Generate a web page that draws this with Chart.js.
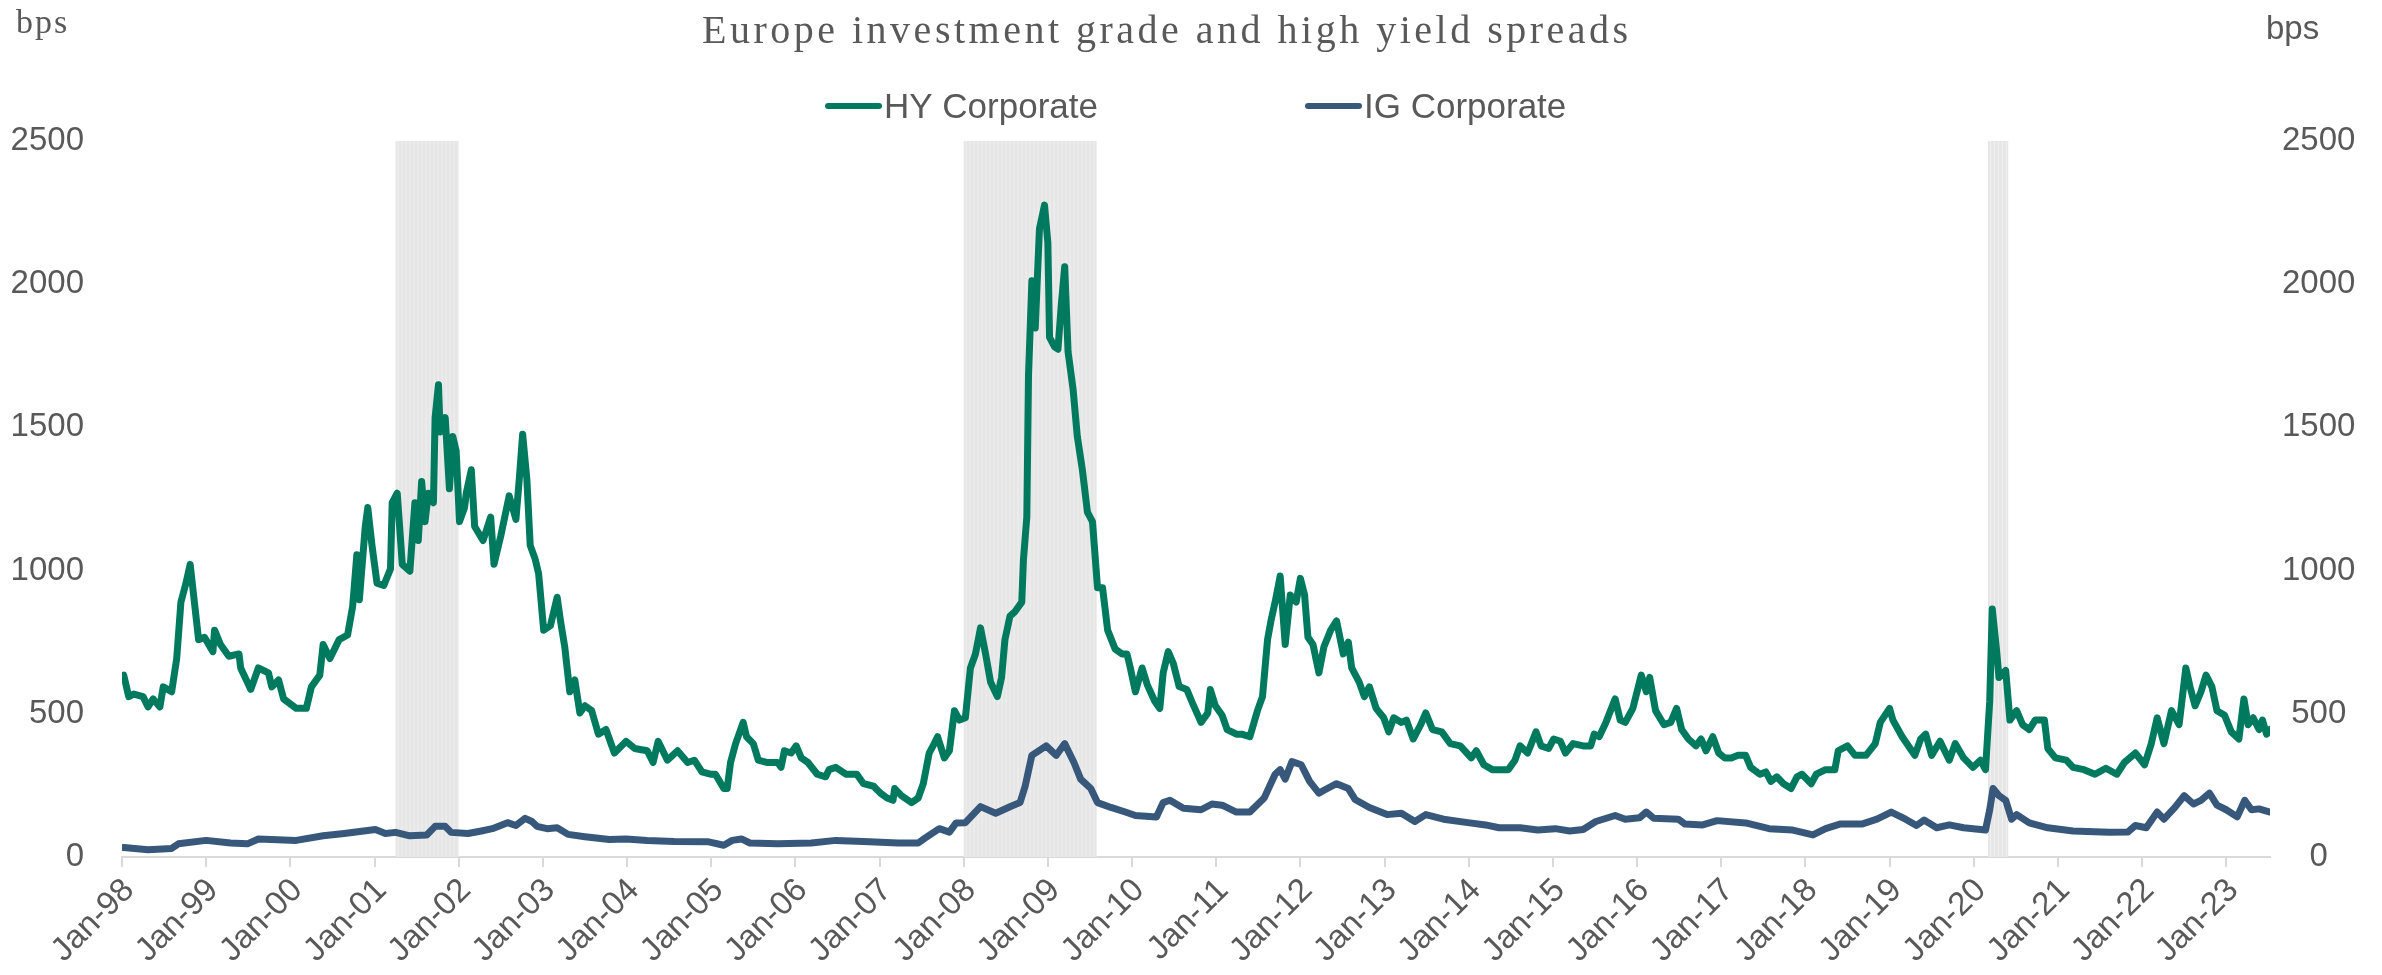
<!DOCTYPE html>
<html>
<head>
<meta charset="utf-8">
<title>Europe investment grade and high yield spreads</title>
<script src="https://cdn.jsdelivr.net/npm/chart.js@4.4.1/dist/chart.umd.min.js"></script>
<style>
  html, body { margin: 0; padding: 0; background: #fff; overflow: hidden; }
  #wrap { width: 2382px; height: 975px; position: relative; }
</style>
</head>
<body>
<div id="wrap"><canvas id="spreadChart"></canvas></div>
<script>
// --- data (bps) ---
const hyDates = [
  1998.02, 1998.08, 1998.14, 1998.25, 1998.31, 1998.37, 1998.45, 1998.49, 1998.59, 1998.65,
  1998.70, 1998.76, 1998.81, 1998.86, 1998.91, 1998.98, 1999.08, 1999.10, 1999.17, 1999.27,
  1999.39, 1999.41, 1999.53, 1999.62, 1999.74, 1999.78, 1999.86, 1999.92, 2000.07, 2000.19,
  2000.25, 2000.35, 2000.39, 2000.47, 2000.58, 2000.68, 2000.74, 2000.79, 2000.82, 2000.89,
  2000.92, 2000.97, 2001.03, 2001.11, 2001.19, 2001.21, 2001.27, 2001.33, 2001.42, 2001.48,
  2001.52, 2001.56, 2001.60, 2001.64, 2001.70, 2001.72, 2001.76, 2001.78, 2001.84, 2001.89,
  2001.93, 2001.97, 2002.01, 2002.07, 2002.09, 2002.15, 2002.19, 2002.29, 2002.38, 2002.42,
  2002.50, 2002.60, 2002.64, 2002.68, 2002.72, 2002.76, 2002.81, 2002.85, 2002.91, 2002.95,
  2003.01, 2003.09, 2003.17, 2003.21, 2003.26, 2003.32, 2003.38, 2003.44, 2003.50, 2003.58,
  2003.66, 2003.75, 2003.85, 2003.99, 2004.09, 2004.24, 2004.31, 2004.37, 2004.48, 2004.60,
  2004.72, 2004.80, 2004.89, 2004.99, 2005.05, 2005.15, 2005.19, 2005.23, 2005.29, 2005.38,
  2005.42, 2005.50, 2005.56, 2005.66, 2005.79, 2005.83, 2005.87, 2005.95, 2006.01, 2006.07,
  2006.15, 2006.26, 2006.36, 2006.40, 2006.48, 2006.60, 2006.73, 2006.81, 2006.93, 2007.01,
  2007.09, 2007.16, 2007.18, 2007.26, 2007.38, 2007.46, 2007.52, 2007.59, 2007.65, 2007.69,
  2007.77, 2007.83, 2007.89, 2007.95, 2008.02, 2008.08, 2008.14, 2008.20, 2008.26, 2008.32,
  2008.40, 2008.45, 2008.49, 2008.55, 2008.61, 2008.69, 2008.71, 2008.75, 2008.77, 2008.81,
  2008.85, 2008.90, 2008.96, 2009.00, 2009.02, 2009.08, 2009.12, 2009.16, 2009.20, 2009.24,
  2009.30, 2009.35, 2009.41, 2009.47, 2009.53, 2009.59, 2009.65, 2009.71, 2009.80, 2009.88,
  2009.94, 2009.98, 2010.04, 2010.12, 2010.18, 2010.27, 2010.33, 2010.37, 2010.43, 2010.49,
  2010.56, 2010.65, 2010.72, 2010.82, 2010.90, 2010.93, 2010.99, 2011.07, 2011.13, 2011.24,
  2011.30, 2011.40, 2011.49, 2011.55, 2011.61, 2011.65, 2011.70, 2011.76, 2011.82, 2011.88,
  2011.95, 2012.00, 2012.05, 2012.09, 2012.15, 2012.22, 2012.28, 2012.36, 2012.43, 2012.51,
  2012.57, 2012.61, 2012.70, 2012.76, 2012.82, 2012.90, 2012.99, 2013.05, 2013.11, 2013.20,
  2013.26, 2013.34, 2013.43, 2013.49, 2013.57, 2013.68, 2013.78, 2013.90, 2014.03, 2014.09,
  2014.18, 2014.28, 2014.38, 2014.47, 2014.55, 2014.61, 2014.70, 2014.80, 2014.86, 2014.95,
  2015.01, 2015.09, 2015.15, 2015.24, 2015.36, 2015.45, 2015.49, 2015.55, 2015.63, 2015.74,
  2015.80, 2015.86, 2015.95, 2016.05, 2016.11, 2016.15, 2016.22, 2016.32, 2016.40, 2016.47,
  2016.53, 2016.61, 2016.70, 2016.76, 2016.82, 2016.90, 2016.97, 2017.04, 2017.12, 2017.20,
  2017.29, 2017.35, 2017.46, 2017.53, 2017.59, 2017.66, 2017.74, 2017.83, 2017.90, 2017.96,
  2018.07, 2018.13, 2018.24, 2018.35, 2018.39, 2018.50, 2018.59, 2018.72, 2018.83, 2018.89,
  2019.00, 2019.04, 2019.15, 2019.30, 2019.37, 2019.43, 2019.50, 2019.60, 2019.71, 2019.78,
  2019.88, 2019.99, 2020.08, 2020.14, 2020.19, 2020.22, 2020.27, 2020.30, 2020.38, 2020.43,
  2020.51, 2020.58, 2020.66, 2020.73, 2020.84, 2020.88, 2020.97, 2021.10, 2021.18, 2021.31,
  2021.44, 2021.57, 2021.70, 2021.79, 2021.92, 2022.03, 2022.11, 2022.18, 2022.26, 2022.35,
  2022.44, 2022.52, 2022.57, 2022.63, 2022.70, 2022.76, 2022.83, 2022.89, 2022.98, 2023.06,
  2023.15, 2023.21, 2023.26, 2023.32, 2023.39, 2023.43, 2023.48, 2023.52
];
const hyValues = [
  635, 560, 569, 560, 524, 552, 524, 594, 577, 693,
  890, 956, 1022, 890, 759, 767, 717, 792, 742, 701,
  709, 660, 585, 660, 643, 594, 618, 552, 519, 519,
  594, 635, 742, 693, 759, 775, 874, 1055, 898, 1154,
  1220, 1088, 956, 948, 1006, 1237, 1270, 1022, 998, 1237,
  1105, 1311, 1171, 1270, 1237, 1534, 1649, 1484, 1534, 1286,
  1468, 1418, 1171, 1220, 1270, 1352, 1154, 1105, 1187, 1022,
  1121, 1261, 1220, 1179, 1319, 1476, 1319, 1088, 1039, 989,
  792, 808, 907, 824, 734, 577, 618, 503, 528, 511,
  429, 445, 363, 404, 379, 371, 330, 404, 338, 371,
  330, 338, 297, 289, 289, 239, 239, 330, 396, 470,
  420, 396, 338, 330, 330, 313, 371, 363, 388, 346,
  330, 289, 280, 305, 313, 289, 289, 256, 247, 223,
  206, 198, 239, 214, 190, 206, 256, 363, 396, 420,
  346, 371, 511, 478, 486, 660, 709, 800, 709, 610,
  560, 627, 759, 841, 857, 890, 1039, 1187, 1682, 2012,
  1847, 2193, 2276, 2144, 1814, 1781, 1773, 1929, 2061, 1764,
  1632, 1468, 1352, 1204, 1171, 940, 940, 792, 726, 709,
  709, 660, 577, 660, 602, 544, 519, 643, 717, 676,
  595, 585, 536, 470, 503, 585, 528, 495, 445, 429,
  429, 420, 511, 560, 759, 824, 890, 981, 742, 915,
  890, 973, 915, 767, 742, 643, 734, 792, 824, 709,
  750, 660, 610, 560, 594, 519, 486, 437, 486, 470,
  478, 412, 462, 503, 445, 437, 396, 388, 346, 371,
  322, 305, 305, 305, 338, 388, 363, 437, 388, 379,
  412, 404, 363, 396, 388, 388, 429, 420, 470, 552,
  478, 470, 519, 635, 577, 627, 511, 462, 470, 519,
  445, 412, 388, 412, 371, 420, 363, 346, 346, 355,
  355, 313, 289, 297, 264, 280, 256, 239, 280, 289,
  256, 289, 305, 305, 371, 388, 355, 355, 396, 470,
  519, 478, 420, 355, 412, 429, 355, 404, 338, 396,
  346, 313, 338, 305, 544, 866, 726, 627, 651, 478,
  511, 462, 445, 478, 478, 379, 346, 338, 313, 305,
  289, 310, 289, 330, 363, 322, 396, 486, 396, 511,
  462, 660, 594, 528, 577, 635, 594, 511, 495, 437,
  412, 552, 462, 486, 445, 478, 429, 445
];

const igDates = [
  1998.02, 1998.31, 1998.59, 1998.67, 1999.00, 1999.29, 1999.49, 1999.62, 2000.07, 2000.39,
  2000.64, 2001.01, 2001.13, 2001.25, 2001.42, 2001.62, 2001.72, 2001.84, 2001.91, 2002.11,
  2002.27, 2002.40, 2002.58, 2002.68, 2002.79, 2002.87, 2002.93, 2003.05, 2003.17, 2003.30,
  2003.50, 2003.79, 2003.99, 2004.24, 2004.56, 2004.97, 2005.15, 2005.25, 2005.36, 2005.46,
  2005.79, 2006.19, 2006.48, 2006.81, 2007.22, 2007.46, 2007.54, 2007.71, 2007.83, 2007.91,
  2008.02, 2008.20, 2008.38, 2008.57, 2008.67, 2008.73, 2008.81, 2008.98, 2009.10, 2009.20,
  2009.31, 2009.39, 2009.51, 2009.59, 2009.75, 2009.92, 2010.04, 2010.29, 2010.37, 2010.45,
  2010.61, 2010.82, 2010.95, 2011.07, 2011.24, 2011.40, 2011.57, 2011.70, 2011.76, 2011.82,
  2011.90, 2012.01, 2012.11, 2012.22, 2012.32, 2012.43, 2012.57, 2012.65, 2012.82, 2013.03,
  2013.20, 2013.36, 2013.49, 2013.70, 2013.99, 2014.20, 2014.36, 2014.61, 2014.82, 2015.03,
  2015.20, 2015.36, 2015.51, 2015.74, 2015.86, 2016.03, 2016.11, 2016.20, 2016.49, 2016.57,
  2016.78, 2016.95, 2017.29, 2017.57, 2017.85, 2018.09, 2018.24, 2018.41, 2018.67, 2018.85,
  2019.02, 2019.19, 2019.32, 2019.41, 2019.56, 2019.71, 2019.88, 2020.14, 2020.19, 2020.23,
  2020.30, 2020.38, 2020.45, 2020.51, 2020.66, 2020.88, 2021.18, 2021.61, 2021.83, 2021.92,
  2022.05, 2022.18, 2022.26, 2022.39, 2022.50, 2022.61, 2022.70, 2022.80, 2022.89, 2023.00,
  2023.13, 2023.22, 2023.30, 2023.39, 2023.52
];
const igValues = [
  33, 25, 30, 46, 58, 49, 46, 63, 58, 74,
  82, 96, 82, 86, 74, 77, 107, 107, 86, 82,
  91, 99, 120, 110, 135, 124, 107, 99, 102, 79,
  71, 61, 63, 58, 54, 53, 41, 58, 63, 49,
  46, 49, 58, 54, 49, 49, 66, 99, 87, 119,
  120, 176, 153, 178, 190, 247, 355, 388, 355, 396,
  330, 272, 239, 190, 173, 157, 145, 140, 190, 198,
  170, 165, 185, 181, 157, 157, 206, 289, 305, 272,
  333, 322, 264, 223, 239, 256, 239, 201, 173, 148,
  153, 124, 148, 132, 120, 112, 102, 102, 94, 99,
  91, 96, 124, 145, 132, 137, 157, 135, 132, 115,
  112, 127, 119, 99, 94, 77, 99, 115, 115, 132,
  157, 132, 110, 129, 102, 112, 102, 94, 165, 239,
  214, 198, 132, 148, 119, 102, 91, 86, 87, 110,
  102, 157, 132, 173, 214, 185, 198, 223, 181, 165,
  140, 198, 165, 168, 157
];

// eixo X: um rótulo por ano (Jan)
const tickYears = [1998, 1999, 2000, 2001, 2002, 2003, 2004, 2005, 2006, 2007, 2008, 2009, 2010,
  2011, 2012, 2013, 2014, 2015, 2016, 2017, 2018, 2019, 2020, 2021, 2022, 2023];
const tickLabels = ['Jan-98', 'Jan-99', 'Jan-00', 'Jan-01', 'Jan-02', 'Jan-03', 'Jan-04', 'Jan-05',
  'Jan-06', 'Jan-07', 'Jan-08', 'Jan-09', 'Jan-10', 'Jan-11', 'Jan-12', 'Jan-13', 'Jan-14',
  'Jan-15', 'Jan-16', 'Jan-17', 'Jan-18', 'Jan-19', 'Jan-20', 'Jan-21', 'Jan-22', 'Jan-23'];
const yTicks = [0, 500, 1000, 1500, 2000, 2500];

// faixas de recessão (sombreado cinza)
const recessionStart = [2001.25, 2008.0, 2020.17];
const recessionEnd = [2002.0, 2009.58, 2020.41];

const textGrey = '#595959';
Chart.defaults.font.family = '"Liberation Sans", Arial, sans-serif';

// --- plugins ---
const recessionBands = {
    id: 'recessionBands',
    beforeDatasetsDraw(chart) {
        const { ctx, scales: { x, y } } = chart;
        const top = y.getPixelForValue(yTicks[yTicks.length - 1]);
        const bottom = y.getPixelForValue(0);
        ctx.save();
        recessionStart.forEach((s, i) => {
            const x0 = x.getPixelForValue(s);
            const x1 = x.getPixelForValue(recessionEnd[i]);
            ctx.fillStyle = '#e6e6e6';
            ctx.fillRect(x0, top, x1 - x0, bottom - top);
            ctx.fillStyle = '#f0f0f0';
            for (let p = x0 + 2; p < x1 - 1; p += 4) ctx.fillRect(p, top, 1, bottom - top);
        });
        ctx.restore();
    }
};

const legendPos = [825, 1305];
const extraText = {
    id: 'extraText',
    afterDraw(chart) {
        const ctx = chart.ctx;
        ctx.save();
        ctx.fillStyle = textGrey;
        ctx.textAlign = 'left';
        ctx.textBaseline = 'alphabetic';

        ctx.font = '40px "Liberation Serif", "Times New Roman", serif';
        ctx.letterSpacing = '3.5px';
        ctx.fillText('Europe investment grade and high yield spreads', 702, 43);

        ctx.font = '34px "Liberation Serif", "Times New Roman", serif';
        ctx.letterSpacing = '2px';
        ctx.fillText('bps', 16, 33);

        ctx.letterSpacing = '0px';
        ctx.font = '33px "Liberation Sans", Arial, sans-serif';
        ctx.fillText('bps', 2266, 39);

        // legenda
        ctx.font = '35px "Liberation Sans", Arial, sans-serif';
        chart.data.datasets.forEach((ds, i) => {
            const lx = legendPos[i];
            ctx.strokeStyle = ds.borderColor;
            ctx.lineWidth = 6;
            ctx.lineCap = 'round';
            ctx.beginPath();
            ctx.moveTo(lx + 3, 106);
            ctx.lineTo(lx + 54, 106);
            ctx.stroke();
            ctx.fillText(ds.label, lx + 59, 118);
        });
        ctx.restore();
    }
};

const yAxisCommon = {
    min: 0, max: 2500,
    afterBuildTicks(axis) { axis.ticks = yTicks.map(v => ({ value: v })); },
    grid: { display: false },
    border: { display: false },
};
const yTickStyle = { color: textGrey, font: { size: 33 }, callback: v => String(v) };

new Chart(document.getElementById('spreadChart'), {
    type: 'line',
    data: {
        datasets: [
            {
                label: 'HY Corporate',
                data: hyDates.map((d, i) => ({ x: d, y: hyValues[i] })),
                borderColor: '#007a5f', borderWidth: 7, pointRadius: 0, tension: 0,
                borderJoinStyle: 'round', borderCapStyle: 'round'
            },
            {
                label: 'IG Corporate',
                data: igDates.map((d, i) => ({ x: d, y: igValues[i] })),
                borderColor: '#37587a', borderWidth: 7, pointRadius: 0, tension: 0,
                borderJoinStyle: 'round', borderCapStyle: 'round'
            }
        ]
    },
    options: {
        responsive: true, maintainAspectRatio: false, animation: false,
        layout: { padding: { top: 141, left: 0, right: 0, bottom: 0 } },
        plugins: { legend: { display: false }, tooltip: { enabled: false } },
        scales: {
            x: {
                type: 'linear', min: 1998, max: 2023.52,
                afterBuildTicks(axis) { axis.ticks = tickYears.map(v => ({ value: v })); },
                afterFit(axis) { axis.height = 118; },
                grid: { drawOnChartArea: false, drawTicks: true, tickLength: 10, color: '#d9d9d9', lineWidth: 2 },
                border: { color: '#d9d9d9', width: 2 },
                ticks: {
                    autoSkip: false, maxRotation: 45, minRotation: 45, padding: 4, labelOffset: 7,
                    color: textGrey, font: { size: 33 },
                    callback: (v) => tickLabels[tickYears.indexOf(v)]
                }
            },
            y: Object.assign({
                position: 'left',
                afterFit(axis) { axis.width = 122; },
                ticks: Object.assign({ padding: 30 }, yTickStyle)
            }, yAxisCommon),
            y2: Object.assign({
                position: 'right',
                afterFit(axis) { axis.width = 112; },
                ticks: Object.assign({ padding: 4, crossAlign: 'center' }, yTickStyle)
            }, yAxisCommon)
        }
    },
    plugins: [recessionBands, extraText]
});
</script>
</body>
</html>
